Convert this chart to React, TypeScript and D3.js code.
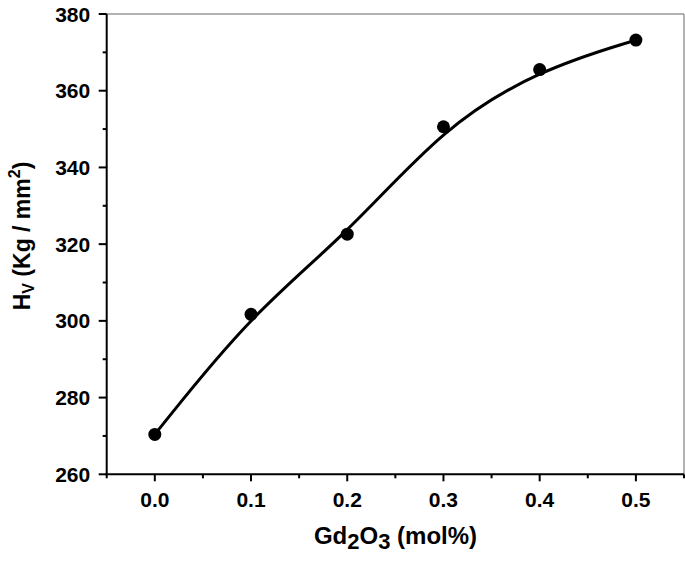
import React from "react";
import * as d3 from "d3";

const xValues = [0.0, 0.1, 0.2, 0.3, 0.4, 0.5];
const hvValues = [270.4, 301.7, 322.6, 350.6, 365.5, 373.2];
const xTicks = [0.0, 0.1, 0.2, 0.3, 0.4, 0.5];
const xMinorTicks = [-0.05, 0.05, 0.15, 0.25, 0.35, 0.45, 0.55];
const yTicks = [260, 280, 300, 320, 340, 360, 380];
const yMinorTicks = [270, 290, 310, 330, 350, 370];

const W = 685;
const H = 561;
const left = 106.7;
const right = 684;
const top = 14;
const bottom = 474.3;

export default function App() {
  const x = d3.scaleLinear().domain([-0.05, 0.55]).range([left, right]);
  const y = d3.scaleLinear().domain([260, 380]).range([bottom, top]);
  const data = xValues.map((v, i) => [v, hvValues[i]] as [number, number]);
  const line = d3
    .line<[number, number]>()
    .x((d) => x(d[0]))
    .y((d) => y(d[1]))
    .curve(d3.curveBasis);
  const font = "'Liberation Sans', Arial, sans-serif";
  return (
    <svg
      width={W}
      height={H}
      style={{ position: "absolute", left: 0, top: 0, background: "#fff" }}
      fontFamily={font}
    >
      <rect x={0} y={0} width={W} height={H} fill="#fff" />
      <line x1={left} x2={right} y1={top} y2={top} stroke="#999" strokeWidth={1.5} />
      <line x1={right} x2={right} y1={top} y2={bottom} stroke="#999" strokeWidth={1.5} />
      <path d={line(data) || ""} fill="none" stroke="#000" strokeWidth={3} />
      {data.map((d, i) => (
        <circle key={i} cx={x(d[0])} cy={y(d[1])} r={6.5} fill="#000" />
      ))}
      <line x1={left} x2={left} y1={top} y2={bottom + 1} stroke="#000" strokeWidth={2} />
      <line x1={left - 1} x2={right} y1={bottom} y2={bottom} stroke="#000" strokeWidth={2} />
      {yTicks.map((t) => (
        <g key={t}>
          <line x1={left - 8} x2={left} y1={y(t)} y2={y(t)} stroke="#000" strokeWidth={2} />
          <text
            x={left - 16.5}
            y={y(t)}
            dy="0.36em"
            textAnchor="end"
            fontSize={21}
            fontWeight="bold"
          >
            {t}
          </text>
        </g>
      ))}
      {yMinorTicks.map((t) => (
        <line key={t} x1={left - 4} x2={left} y1={y(t)} y2={y(t)} stroke="#000" strokeWidth={2} />
      ))}
      {xTicks.map((t) => (
        <g key={t}>
          <line x1={x(t)} x2={x(t)} y1={bottom} y2={bottom + 7} stroke="#000" strokeWidth={2} />
          <text
            x={x(t)}
            y={506.7}
            textAnchor="middle"
            fontSize={21}
            fontWeight="bold"
          >
            {t.toFixed(1)}
          </text>
        </g>
      ))}
      {xMinorTicks.map((t) => (
        <line key={t} x1={x(t)} x2={x(t)} y1={bottom} y2={bottom + 4} stroke="#000" strokeWidth={2} />
      ))}
      <text x={395.5} y={543.5} textAnchor="middle" fontSize={24} fontWeight="bold">
        Gd
        <tspan fontSize={22} dy={5}>2</tspan>
        <tspan dy={-5}>O</tspan>
        <tspan fontSize={22} dy={5}>3</tspan>
        <tspan dy={-5}> (mol%)</tspan>
      </text>
      <text
        transform={`translate(30, 236) rotate(-90)`}
        textAnchor="middle"
        fontSize={23}
        fontWeight="bold"
      >
        H
        <tspan fontSize={16} dy={4}>V</tspan>
        <tspan dy={-4}> (Kg / mm</tspan>
        <tspan fontSize={16} dy={-10}>2</tspan>
        <tspan dy={10}>)</tspan>
      </text>
    </svg>
  );
}
